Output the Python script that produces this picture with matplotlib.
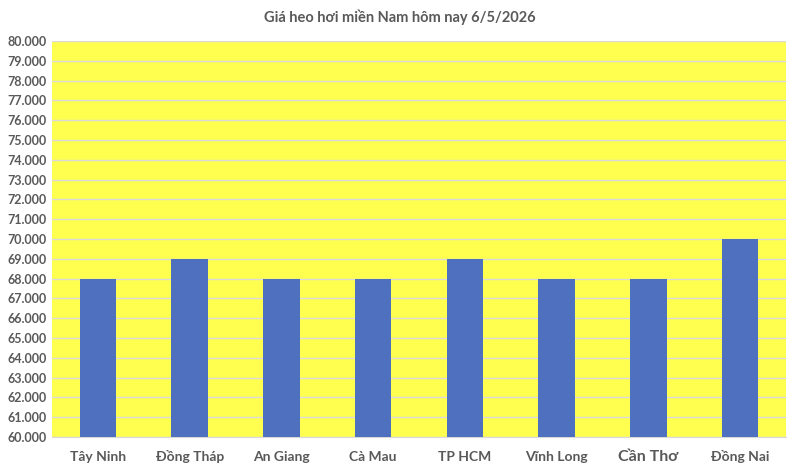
import matplotlib
matplotlib.use("Agg")
import matplotlib.pyplot as plt

regions = ["Tây Ninh", "Đồng Tháp", "An Giang", "Cà Mau", "TP HCM", "Vĩnh Long", "Cần Thơ", "Đồng Nai"]
prices = [68000, 69000, 68000, 68000, 69000, 68000, 68000, 70000]
yticks = list(range(60000, 80001, 1000))
ytick_labels = [f"{v:,}".replace(",", ".") for v in yticks]

plt.rcParams['font.family'] = ['Lato', 'DejaVu Sans']
grey = '#595959'

fig = plt.figure(figsize=(8, 4.7), dpi=100)
ax = fig.add_axes([52/800, 1 - 437/470, 734/800, 396/470])
ax.set_facecolor('#FFFF4F')

x = range(len(regions))
ax.bar(x, prices, width=0.4, color='#4F70BF', zorder=3)

ax.set_ylim(60000, 80000)
ax.set_xlim(-0.5, len(regions) - 0.5)
ax.set_yticks(yticks)
ax.set_yticklabels(ytick_labels)
ax.set_xticks(list(x))
ax.set_xticklabels(regions)
ax.tick_params(axis='y', length=0, pad=4, labelsize=9, labelcolor=grey)
ax.tick_params(axis='x', length=0, pad=17, labelsize=10, labelcolor=grey)
for lbl in ax.get_yticklabels() + ax.get_xticklabels():
    lbl.set_fontweight('bold')
for lbl in ax.get_xticklabels():
    lbl.set_verticalalignment('baseline')
    if lbl.get_text() == "Cần Thơ":
        lbl.set_fontsize(11.5)

ax.grid(axis='y', color='#DADADA', linewidth=1, zorder=0)
for s in ['left', 'right', 'top']:
    ax.spines[s].set_visible(False)
ax.spines['bottom'].set_color('#D9D9D9')

fig.text(0.5, 1 - 17/470, "Giá heo hơi miền Nam hôm nay 6/5/2026", ha='center', va='center',
         fontsize=10.5, fontweight='bold', color=grey)

fig.savefig("out.png", dpi=100)
